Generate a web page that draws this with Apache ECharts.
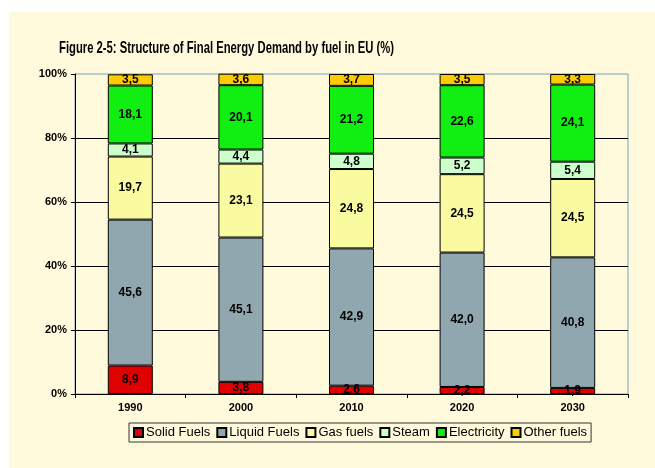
<!DOCTYPE html>
<html>
<head>
<meta charset="utf-8">
<script src="https://cdn.jsdelivr.net/npm/echarts@6/dist/echarts.min.js"></script>
<style>
html, body { margin: 0; padding: 0; background: #fff; }
#chart { width: 655px; height: 468px; }
</style>
</head>
<body>
<div id="chart"></div>
<script>
// data
const years = ["1990", "2000", "2010", "2020", "2030"];
const fuelNames = ["Solid Fuels", "Liquid Fuels", "Gas fuels", "Steam", "Electricity", "Other fuels"];
const solidFuels = [8.9, 3.8, 2.6, 2.2, 1.9];
const liquidFuels = [45.6, 45.1, 42.9, 42.0, 40.8];
const gasFuels = [19.7, 23.1, 24.8, 24.5, 24.5];
const steam = [4.1, 4.4, 4.8, 5.2, 5.4];
const electricity = [18.1, 20.1, 21.2, 22.6, 24.1];
const otherFuels = [3.5, 3.6, 3.7, 3.5, 3.3];
const yTicks = [0, 20, 40, 60, 80, 100];

const fuelData = [solidFuels, liquidFuels, gasFuels, steam, electricity, otherFuels];
const fuelColors = ["#e00000", "#91a7af", "#fafaa0", "#ccffcc", "#11ee11", "#fccc00"];

const titleText = "Figure 2-5: Structure of Final Energy Demand by fuel in EU (%)";
const titleFont = "bold 17px 'Liberation Sans', Arial, sans-serif";
// the original title is set in a condensed face: squeeze it to the same width
const ctx = document.createElement("canvas").getContext("2d");
ctx.font = titleFont;
const titleScale = 335 / ctx.measureText(titleText).width;

const chart = echarts.init(document.getElementById("chart"));
chart.setOption({
  animation: false,
  backgroundColor: "#ffffff",
  textStyle: { fontFamily: "'Liberation Sans', Arial, sans-serif" },
  graphic: [
    {
      type: "rect",
      z: -10,
      shape: { x: 9, y: 12, width: 660, height: 470 },
      style: { fill: "#fffadc" }
    },
    {
      type: "text",
      x: 59,
      y: 40,
      scaleX: titleScale,
      style: {
        text: titleText,
        font: titleFont,
        fill: "#000"
      }
    }
  ],
  legend: {
    left: 129,
    top: 423,
    itemWidth: 9,
    itemHeight: 9,
    itemGap: 6,
    icon: "rect",
    padding: [3, 4, 3, 4],
    borderColor: "#333",
    borderWidth: 1,
    backgroundColor: "#fffadc",
    textStyle: { fontSize: 13, color: "#000", padding: [0, 0, 0, -2] },
    data: fuelNames
  },
  grid: {
    left: 75,
    right: 27,
    top: 74,
    bottom: 74,
    show: true,
    borderColor: "#7f9db9",
    borderWidth: 1,
    backgroundColor: "transparent"
  },
  xAxis: {
    type: "category",
    data: years,
    axisLine: { lineStyle: { color: "#000" } },
    axisTick: { show: true, length: 4, lineStyle: { color: "#000" } },
    axisLabel: { color: "#000", fontWeight: "bold", fontSize: 11, margin: 8 }
  },
  yAxis: {
    type: "value",
    min: yTicks[0],
    max: yTicks[yTicks.length - 1],
    interval: 20,
    axisLine: { show: true, lineStyle: { color: "#000" } },
    axisTick: { show: true, length: 4, lineStyle: { color: "#000" } },
    axisLabel: { color: "#000", fontWeight: "bold", fontSize: 11, margin: 8, formatter: "{value}%" },
    splitLine: { show: true, showMaxLine: false, lineStyle: { color: "#000", width: 1 } }
  },
  series: fuelNames.map((name, i) => ({
    name: name,
    type: "bar",
    stack: "total",
    barWidth: 45,
    data: fuelData[i],
    itemStyle: { color: fuelColors[i], borderColor: "#000", borderWidth: 1 },
    label: {
      show: true,
      position: "inside",
      color: "#000",
      fontWeight: "bold",
      fontSize: 12,
      formatter: p => p.value.toFixed(1).replace(".", ",")
    }
  }))
});
</script>
</body>
</html>
